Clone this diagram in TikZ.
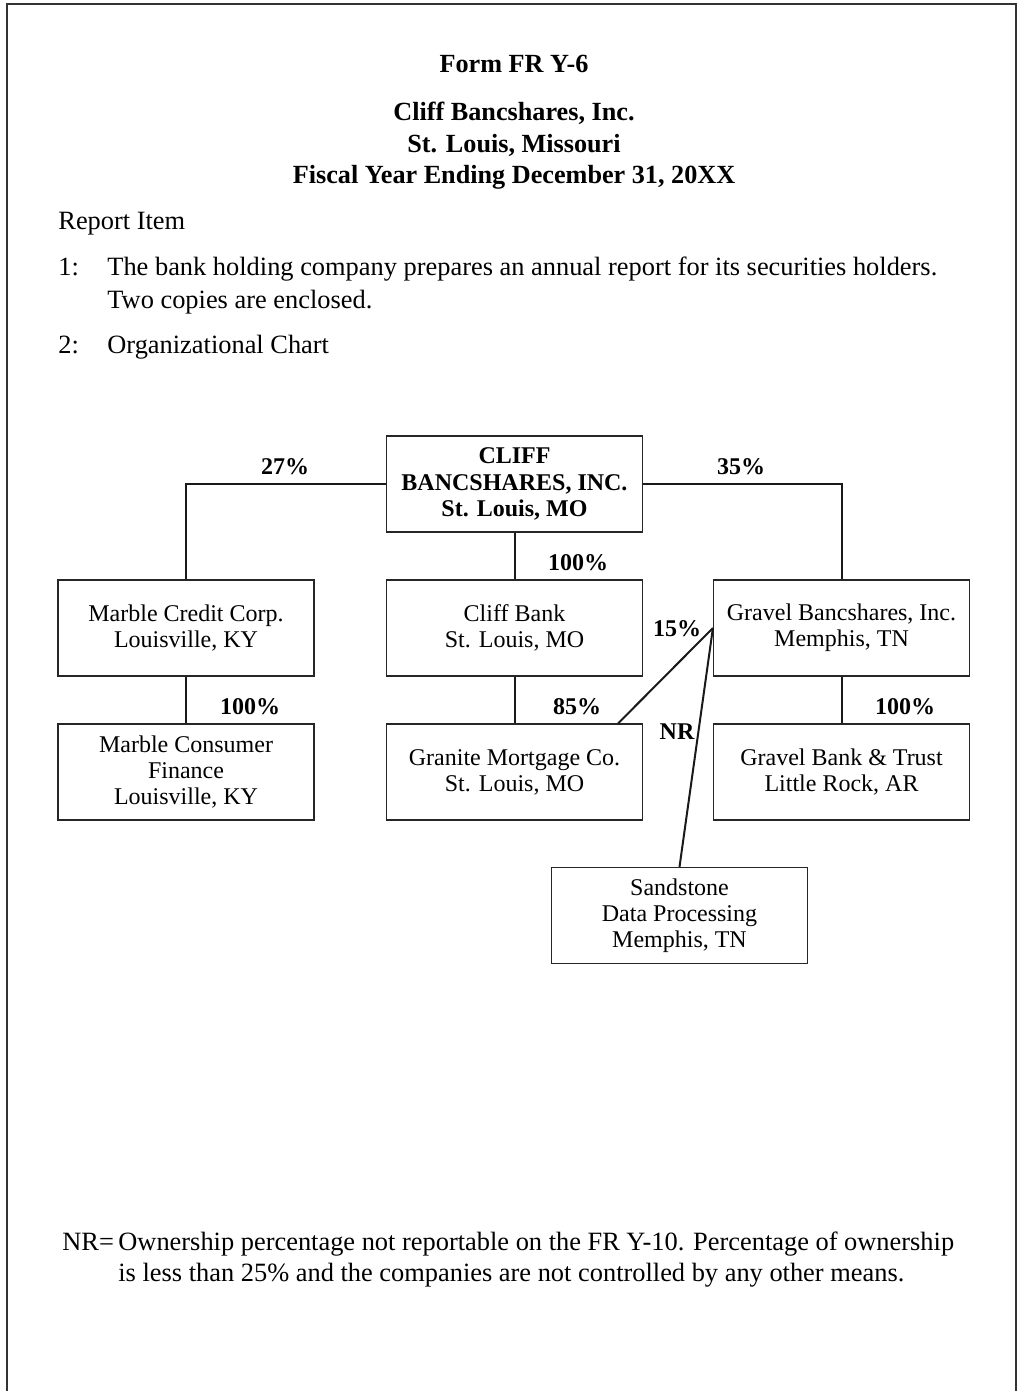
\documentclass[tikz,border=0pt]{standalone}
\usepackage{fontspec}
\setmainfont{Liberation Serif}
\usepackage{tikz}

\tikzset{
	firm/.style={draw=black!85, line width=0.6pt, minimum width=128pt, minimum height=48pt, inner sep=0pt, align=center, font=\fontsize{12}{13}\selectfont},
	pct/.style={inner sep=0pt, font=\fontsize{12}{13}\selectfont\bfseries},
	link/.style={line width=1pt, black!90},
	body/.style={inner sep=0pt, align=left, font=\fontsize{13.2}{16.5}\selectfont},
	head/.style={inner sep=0pt, align=center, font=\fontsize{13.1}{15.75}\selectfont\bfseries}
}

\begin{document}
\begin{tikzpicture}[x=0.5pt, y=-0.5pt]
		\useasboundingbox (0, 0) rectangle (1018, 1391);
		\draw[line width=1pt, black!80] (7, 1391) -- (7, 4) -- (1016, 4) -- (1016, 1391);
		%%
		\node[head, anchor=base] (form) at (514, 73) {Form FR Y-6};
		\node[head, anchor=base] (title) at (514, 184) {Cliff Bancshares, Inc.\\St. Louis, Missouri\\Fiscal Year Ending December 31, 20XX};
		%%
		\node[body, anchor=base west] (report) at (58, 230) {Report Item};
		\node[body, anchor=base west] (one) at (58, 275) {1:};
		\node[body, anchor=base west] (onetext) at (107, 308) {The bank holding company prepares an annual report for its securities holders.\\Two copies are enclosed.};
		\node[body, anchor=base west] (two) at (58, 353) {2:};
		\node[body, anchor=base west] (twotext) at (107, 353) {Organizational Chart};
		%%
		\node[firm, font=\fontsize{12}{13.2}\selectfont\bfseries] (cliff) at (514.5, 484) {CLIFF\\BANCSHARES, INC.\\St. Louis, MO};
		\node[firm] (marble) at (186, 628) {Marble Credit Corp.\\Louisville, KY};
		\node[firm] (bank) at (514.5, 628) {Cliff Bank\\St. Louis, MO};
		\node[firm] (gravel) at (841.5, 628) {Gravel Bancshares, Inc.\\Memphis, TN};
		\node[firm] (consumer) at (186, 772) {Marble Consumer\\Finance\\Louisville, KY};
		\node[firm] (granite) at (514.5, 772) {Granite Mortgage Co.\\St. Louis, MO};
		\node[firm] (trust) at (841.5, 772) {Gravel Bank \& Trust\\Little Rock, AR};
		\node[firm] (sandstone) at (679.5, 915.5) {Sandstone\\Data Processing\\Memphis, TN};
		%%
		\draw[link] (cliff.west) -| (marble.north);
		\draw[link] (cliff.east) -| (gravel.north);
		\draw[link] (cliff.south) -- (bank.north);
		\draw[link] (bank.south) -- (granite.north);
		\draw[link] (marble.south) -- (consumer.north);
		\draw[link] (gravel.south) -- (trust.north);
		\draw[link] (gravel.west) -- ([xshift=-12.5pt]granite.north east);
		\draw[link] (gravel.west) -- (sandstone.north);
		%%
		\node[pct] (p27) at (285, 467) {27\%};
		\node[pct] (p35) at (741, 467) {35\%};
		\node[pct] (pbank) at (578, 563) {100\%};
		\node[pct] (pconsumer) at (250, 707) {100\%};
		\node[pct] (p85) at (577, 707) {85\%};
		\node[pct] (ptrust) at (905, 707) {100\%};
		\node[pct] (p15) at (677, 629) {15\%};
		\node[pct] (pnr) at (677, 732) {NR};
		%%
		\node[body, anchor=base west] (nr) at (62, 1250) {NR=};
		\node[body, anchor=base west, font=\fontsize{13.2}{15.5}\selectfont] (note) at (118, 1281) {Ownership percentage not reportable on the FR Y-10. Percentage of ownership\\is less than 25\% and the companies are not controlled by any other means.};
	\end{tikzpicture}
\end{document}
